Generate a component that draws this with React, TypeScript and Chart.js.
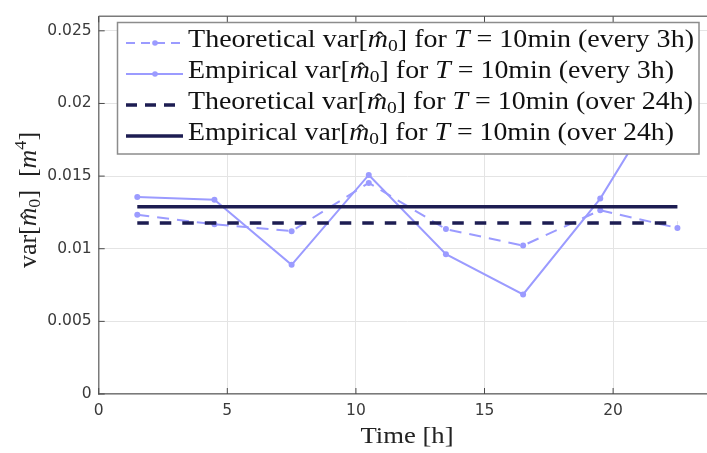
import React, { useEffect, useRef } from "react";
import { Chart, registerables } from "chart.js";

Chart.register(...registerables);

// ---- data ----
const hours = [1.5, 4.5, 7.5, 10.5, 13.5, 16.5, 19.5, 22.5];
const theoretical3h = [0.01234, 0.01168, 0.01121, 0.01453, 0.01135, 0.01022, 0.01265, 0.01143];
const empirical3h = [0.01356, 0.01338, 0.00889, 0.01508, 0.00962, 0.00685, 0.01345, 0.0221];
const theoretical24h = 0.01177;
const empirical24h = 0.01289;

const xTicks = [0, 5, 10, 15, 20];
const xTickLabels = ["0", "5", "10", "15", "20"];
const yTicks = [0, 0.005, 0.01, 0.015, 0.02, 0.025];
const yTickLabels = ["0", "0.005", "0.01", "0.015", "0.02", "0.025"];

// ---- styles ----
const LIGHT = "#9b9bff";
const DARK = "#1d1d52";
const GRID = "#e4e4e4";
const AXIS = "#7a7a7a";
const TICKMARK = "#4a4a4a";
const TICKTXT = "#3a3a3a";
const SERIF = '"Liberation Serif", "Times New Roman", serif';
const SANS = '"DejaVu Sans", sans-serif';

type Seg = { t: string; k?: "r" | "i" | "sub" | "sup"; hat?: boolean };

function segFont(k: string | undefined, size: number) {
  const s = k === "sub" || k === "sup" ? size * 0.7 : size;
  const it = k === "i" ? "italic " : "";
  return `${it}${s}px ${SERIF}`;
}

function segWidth(ctx: CanvasRenderingContext2D, s: Seg, size: number) {
  ctx.font = segFont(s.k, size);
  return ctx.measureText(s.t).width;
}

function drawRich(
  ctx: CanvasRenderingContext2D,
  segs: Seg[],
  x: number,
  y: number,
  size: number,
  targetW: number,
  align: "left" | "center"
) {
  let nat = 0;
  for (const s of segs) nat += segWidth(ctx, s, size);
  const sx = targetW > 0 ? targetW / nat : 1;
  ctx.save();
  ctx.translate(x, y);
  ctx.scale(sx, 1);
  ctx.textBaseline = "alphabetic";
  let cx = align === "center" ? -nat / 2 : 0;
  for (const s of segs) {
    const w = segWidth(ctx, s, size);
    ctx.font = segFont(s.k, size);
    ctx.textAlign = "left";
    const dy = s.k === "sub" ? size * 0.17 : s.k === "sup" ? -size * 0.4 : 0;
    ctx.fillText(s.t, cx, dy);
    if (s.hat) {
      ctx.font = `${size * 0.9}px ${SERIF}`;
      ctx.textAlign = "center";
      ctx.fillText("\u02C6", cx + w / 2 + size * 0.06, size * 0.02);
    }
    cx += w;
  }
  ctx.restore();
}

const legendRows: { segs: Seg[]; w: number; color: string; dash: number[]; lw: number; marker: boolean }[] = [
  {
    segs: [
      { t: "Theoretical var[" },
      { t: "m", k: "i", hat: true },
      { t: "0", k: "sub" },
      { t: "] for " },
      { t: "T", k: "i" },
      { t: " = 10min (every 3h)" },
    ],
    w: 506,
    color: LIGHT,
    dash: [9, 6],
    lw: 2,
    marker: true,
  },
  {
    segs: [
      { t: "Empirical var[" },
      { t: "m", k: "i", hat: true },
      { t: "0", k: "sub" },
      { t: "] for " },
      { t: "T", k: "i" },
      { t: " = 10min (every 3h)" },
    ],
    w: 486,
    color: LIGHT,
    dash: [],
    lw: 2,
    marker: true,
  },
  {
    segs: [
      { t: "Theoretical var[" },
      { t: "m", k: "i", hat: true },
      { t: "0", k: "sub" },
      { t: "] for " },
      { t: "T", k: "i" },
      { t: " = 10min (over 24h)" },
    ],
    w: 505,
    color: DARK,
    dash: [11, 8],
    lw: 3.5,
    marker: false,
  },
  {
    segs: [
      { t: "Empirical var[" },
      { t: "m", k: "i", hat: true },
      { t: "0", k: "sub" },
      { t: "] for " },
      { t: "T", k: "i" },
      { t: " = 10min (over 24h)" },
    ],
    w: 486,
    color: DARK,
    dash: [],
    lw: 3.5,
    marker: false,
  },
];

const yTitle: Seg[] = [
  { t: "var[" },
  { t: "m", k: "i", hat: true },
  { t: "0", k: "sub" },
  { t: "]  [" },
  { t: "m", k: "i" },
  { t: "4", k: "sup" },
  { t: "]" },
];
const xTitle: Seg[] = [{ t: "Time [h]" }];

const overlay = {
  id: "overlay",
  afterDatasetsDraw(chart: any) {
    const { ctx, chartArea: ca, scales } = chart;
    ctx.save();
    const line = (x1: number, y1: number, x2: number, y2: number) => {
      ctx.beginPath();
      ctx.moveTo(x1, y1);
      ctx.lineTo(x2, y2);
      ctx.stroke();
    };
    ctx.setLineDash([]);
    ctx.strokeStyle = AXIS;
    ctx.lineWidth = 1.5;
    line(ca.left, ca.top, ca.right, ca.top);
    ctx.strokeStyle = TICKMARK;
    ctx.lineWidth = 1;
    for (const v of xTicks) {
      const px = scales.x.getPixelForValue(v);
      line(px, ca.bottom, px, ca.bottom - 6);
      line(px, ca.top, px, ca.top + 6);
    }
    for (const v of yTicks) {
      const py = scales.y.getPixelForValue(v);
      line(ca.left, py, ca.left + 6, py);
    }

    // legend
    const bx = 117.5, by = 22.5, bw = 699 - 117.5, bh = 154 - 22.5;
    ctx.fillStyle = "#ffffff";
    ctx.fillRect(bx, by, bw, bh);
    ctx.strokeStyle = "#8c8c8c";
    ctx.lineWidth = 1.5;
    ctx.strokeRect(bx, by, bw, bh);
    const rowY = [43, 74, 105, 136];
    legendRows.forEach((r, i) => {
      const y = rowY[i];
      ctx.strokeStyle = r.color;
      ctx.lineWidth = r.lw;
      ctx.setLineDash(r.dash);
      ctx.lineDashOffset = 0;
      line(126, y, 183, y);
      ctx.setLineDash([]);
      if (r.marker) {
        ctx.fillStyle = r.color;
        ctx.beginPath();
        ctx.arc(155, y, 2.8, 0, Math.PI * 2);
        ctx.fill();
      }
      ctx.fillStyle = "#111111";
      drawRich(ctx, r.segs, 188, y + 4, 25, r.w, "left");
    });
    ctx.restore();
  },
  afterDraw(chart: any) {
    const { ctx } = chart;
    ctx.save();
    ctx.fillStyle = "#222222";
    drawRich(ctx, xTitle, 407, 443, 24, 93, "center");
    ctx.translate(36, 200);
    ctx.rotate(-Math.PI / 2);
    drawRich(ctx, yTitle, 0, 0, 25, 136, "center");
    ctx.restore();
  },
};

export default function App() {
  const ref = useRef<HTMLCanvasElement | null>(null);
  useEffect(() => {
    if (!ref.current) return;
    const pts = (arr: number[]) => hours.map((h, i) => ({ x: h, y: arr[i] }));
    const flat = (v: number) => [
      { x: hours[0], y: v },
      { x: hours[hours.length - 1], y: v },
    ];
    const chart = new Chart(ref.current, {
      type: "line",
      data: {
        datasets: [
          {
            label: "Theoretical (every 3h)",
            data: pts(theoretical3h),
            borderColor: LIGHT,
            backgroundColor: LIGHT,
            borderWidth: 2,
            borderDash: [12, 8],
            pointRadius: 3,
            pointBorderWidth: 0,
            order: 2,
          },
          {
            label: "Empirical (every 3h)",
            data: pts(empirical3h),
            borderColor: LIGHT,
            backgroundColor: LIGHT,
            borderWidth: 2,
            pointRadius: 3,
            pointBorderWidth: 0,
            order: 2,
          },
          {
            label: "Theoretical (over 24h)",
            data: flat(theoretical24h),
            borderColor: DARK,
            borderWidth: 3.5,
            borderDash: [11.5, 11],
            pointRadius: 0,
            order: 1,
          },
          {
            label: "Empirical (over 24h)",
            data: flat(empirical24h),
            borderColor: DARK,
            borderWidth: 3.5,
            pointRadius: 0,
            order: 1,
          },
        ],
      },
      options: {
        responsive: false,
        animation: false,
        devicePixelRatio: 1,
        layout: { padding: { left: 0, right: 3.8, top: 3, bottom: 0 } },
        plugins: { legend: { display: false }, tooltip: { enabled: false } },
        scales: {
          x: {
            type: "linear",
            min: 0,
            max: 24,
            afterBuildTicks: (s: any) => {
              s.ticks = xTicks.map((v) => ({ value: v }));
            },
            afterFit: (s: any) => {
              s.height = 59;
            },
            grid: { color: GRID, drawTicks: false, lineWidth: 1 },
            border: { color: AXIS, width: 1.5 },
            ticks: {
              color: TICKTXT,
              font: { family: SANS, size: 15.5 },
              padding: 8,
              maxRotation: 0,
              callback: (_v: any, i: number) => xTickLabels[i],
            },
          },
          y: {
            type: "linear",
            min: 0,
            max: 0.026,
            afterBuildTicks: (s: any) => {
              s.ticks = yTicks.map((v) => ({ value: v }));
            },
            afterFit: (s: any) => {
              s.width = 98.7;
            },
            grid: { color: GRID, drawTicks: false, lineWidth: 1 },
            border: { color: AXIS, width: 1.5 },
            ticks: {
              color: TICKTXT,
              font: { family: SANS, size: 15.5 },
              padding: 7,
              callback: (_v: any, i: number) => yTickLabels[i],
            },
          },
        },
      },
      plugins: [overlay],
    });
    return () => chart.destroy();
  }, []);
  return (
    <div
      style={{
        position: "fixed",
        left: 0,
        top: 0,
        width: 707,
        height: 453,
        overflow: "hidden",
        background: "#ffffff",
      }}
    >
      <canvas ref={ref} width={720} height={453} style={{ display: "block" }} />
    </div>
  );
}
